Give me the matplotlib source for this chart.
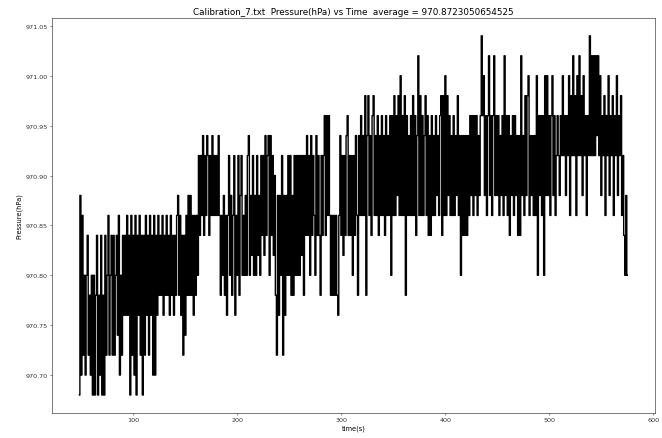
import numpy as np
import matplotlib
matplotlib.use("Agg")
import matplotlib.pyplot as plt
from matplotlib.ticker import MultipleLocator

# pressure readings, one per second starting at t_start.
# each char is a step of 0.02 hPa above p_base (0-9, then a=10 ... i=18)
t_start = 48.0
t_step = 1.0
p_base = 970.68
p_step = 0.02
level_chunks = [
    "0a19261682", "5160605805", "1805082692", "6828268391", "6284849480",
    "9281908492", "8082948294", "8191849585", "9485958495", "84859a5948",
    "28395a5a59", "49596c8c9d", "8c9dc8c9d9", "c9c9d9596a", "5949c6a59c",
    "496c5ac696", "a6cd6a7c6a", "6c7a6c8c7d", "8cd6d8c7b5", "2a4a6c2a4a",
    "6c6c5a5c6c", "6c6c7c5c8d", "8c6d8c96d8", "c85c8ce8e9", "e959595954",
    "9d8c7c8de8", "c8c6c8d95d", "9e9d9f5df9", "d8ef9d9e8d", "9e9d8e9d9e",
    "6e9f9eaf9g", "9e9f5e9d9e", "9f9e8dh9f9", "e9df9e8d8e", "9d9ead9ef8",
    "f9g9fae9d9", "e9daf9d6d8", "d8d8d9eae9", "eae9daeieg", "ae9ehae9eh",
    "aeae9dae9h", "ae9e8dae9e", "ad8d8had9f", "afg9dad9d9", "g6eae9e6ga",
    "gae9egae9c", "ecaecgceae", "cg9fchcf9g", "chcfagce9e", "cichchchdh",
    "cgaecf9ecg", "aecf9ecgae", "cf9c86a6",
]
title_text = "Calibration_7.txt  Pressure(hPa) vs Time  average = 970.8723050654525"

levels = [int(c, 36) for c in "".join(level_chunks)]
pressure = np.round(p_base + p_step * np.array(levels), 2)
times = t_start + t_step * np.arange(len(pressure))

fig = plt.figure(figsize=(6.62, 4.39), dpi=100)
ax = fig.add_axes([0.0785, 0.057, 0.9105, 0.9])

# samples are ~1px apart, so draw them as near-vertical strokes
ax.plot(times, pressure, color="black", linewidth=1.0, drawstyle="steps-mid")

ax.set_title(title_text, fontsize=6.3, pad=3)
ax.set_xlabel("time(s)", fontsize=4.8, labelpad=1.5)
ax.set_ylabel("Pressure(hPa)", fontsize=4.8, labelpad=2)

ax.xaxis.set_major_locator(MultipleLocator(100))
ax.yaxis.set_major_locator(MultipleLocator(0.05))
ax.ticklabel_format(axis="y", useOffset=False)
ax.yaxis.set_major_formatter(plt.FormatStrFormatter("%.2f"))
ax.tick_params(labelsize=4.6, length=1.6, width=0.4, pad=1.5, colors="#333333")
for s in ax.spines.values():
    s.set_linewidth(0.5)
    s.set_color("#444444")

fig.savefig("out.png", dpi=100)
